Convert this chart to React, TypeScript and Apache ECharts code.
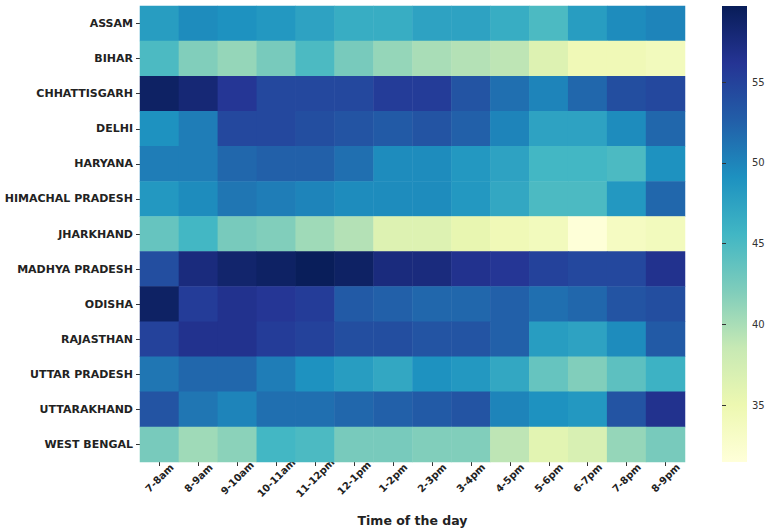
import React, { useEffect, useRef } from "react";
import * as echarts from "echarts";

const times = ["7-8am", "8-9am", "9-10am", "10-11am", "11-12pm", "12-1pm", "1-2pm", "2-3pm", "3-4pm", "4-5pm", "5-6pm", "6-7pm", "7-8pm", "8-9pm"];
const states = ["ASSAM", "BIHAR", "CHHATTISGARH", "DELHI", "HARYANA", "HIMACHAL PRADESH", "JHARKHAND", "MADHYA PRADESH", "ODISHA", "RAJASTHAN", "UTTAR PRADESH", "UTTARAKHAND", "WEST BENGAL"];

const assam = [48, 49.5, 49, 48.5, 47.5, 46.5, 46.5, 47.5, 47.5, 46.5, 45, 48, 49.5, 50];
const bihar = [45, 42, 41, 42.5, 45, 42.5, 41, 40, 39.5, 39, 36.5, 34.5, 34.5, 34];
const chhattisgarh = [59, 58, 56, 54.5, 54.5, 54.5, 55.5, 55.5, 53.5, 51.5, 50, 52, 54, 54.5];
const delhi = [49, 50.5, 54.5, 54.5, 54, 53.5, 53, 53.5, 52.5, 50, 47.5, 47.5, 49.5, 52];
const haryana = [50.5, 50.5, 52, 52.5, 52.5, 51.5, 49.5, 49.5, 48.5, 47.5, 45.5, 45.5, 45, 49];
const himachal = [48.5, 49.5, 51, 50.5, 50, 49.5, 49.5, 49.5, 48.5, 47, 45, 45, 48.5, 52];
const jharkhand = [43.5, 45.5, 42.5, 42, 40.5, 39.5, 36.5, 36.5, 35.5, 34.5, 34, 31.6, 33.5, 34];
const madhya = [54, 57.5, 58.5, 59, 59.6, 59, 57.5, 57.5, 56.5, 56, 55, 54.5, 54.5, 56.5];
const odisha = [59, 55.5, 56.5, 56, 55.5, 53, 52.5, 52, 52, 52.5, 51.5, 52, 53.5, 54];
const rajasthan = [55, 56.5, 56.5, 55.5, 55, 54, 54, 53.5, 53.5, 52.5, 48, 47.5, 49.5, 53];
const uttarPradesh = [51, 52, 52, 50.5, 49, 48, 47, 49, 48.5, 47, 43.5, 42, 44, 46];
const uttarakhand = [53.5, 51, 50, 51.5, 51.5, 52, 52.5, 53, 53.5, 50, 49, 48.5, 53.5, 56.5];
const westBengal = [42.5, 40.5, 41.5, 45.5, 45, 42.5, 42.5, 42, 42, 39, 36, 37, 41, 42.5];

const rows = [assam, bihar, chhattisgarh, delhi, haryana, himachal, jharkhand, madhya, odisha, rajasthan, uttarPradesh, uttarakhand, westBengal];

const colorTicks = [35, 40, 45, 50, 55];
const vMin = 31.5;
const vMax = 59.7;

const ylgnbu = ["#ffffd9", "#edf8b1", "#c7e9b4", "#7fcdbb", "#41b6c4", "#1d91c0", "#225ea8", "#253494", "#081d58"];

export default function App() {
  const ref = useRef<HTMLDivElement>(null);
  useEffect(() => {
    document.body.style.margin = "0";
    if (!ref.current) return;
    const chart = echarts.init(ref.current, undefined, { renderer: "svg" });
    const data: number[][] = [];
    rows.forEach((r, yi) => r.forEach((v, xi) => data.push([xi, yi, v])));
    const font = "DejaVu Sans";
    chart.setOption({
      animation: false,
      backgroundColor: "#ffffff",
      grid: [
        { left: 140, top: 6, width: 545, height: 456, containLabel: false, outerBoundsMode: "none" },
        {
          left: 722, top: 6, width: 25, height: 456, show: true, borderWidth: 0,
          containLabel: false, outerBoundsMode: "none",
          backgroundColor: new echarts.graphic.LinearGradient(0, 1, 0, 0, ylgnbu.map((c, i) => ({ offset: i / (ylgnbu.length - 1), color: c }))),
        },
      ],
      xAxis: [
        {
          type: "category", data: times, gridIndex: 0,
          axisLine: { show: false },
          axisTick: { show: true, length: 4, alignWithLabel: true, lineStyle: { color: "#333" } },
          splitLine: { show: false },
          axisLabel: {
            rotate: 45, align: "center", verticalAlign: "middle",
            fontFamily: font, fontWeight: "bold", fontSize: 10, color: "#222", margin: 16, interval: 0,
          },
          name: "Time of the day", nameLocation: "middle", nameGap: 52,
          nameTextStyle: { fontFamily: font, fontWeight: "bold", fontSize: 12.5, color: "#222" },
        },
        { type: "value", gridIndex: 1, show: false, min: 0, max: 1 },
      ],
      yAxis: [
        {
          type: "category", data: states, inverse: true, gridIndex: 0,
          axisLine: { show: false },
          axisTick: { show: true, length: 4, alignWithLabel: true, lineStyle: { color: "#333" } },
          splitLine: { show: false },
          axisLabel: { fontFamily: font, fontWeight: "bold", fontSize: 11, color: "#222", margin: 7, interval: 0 },
        },
        {
          type: "value", gridIndex: 1, position: "right", min: vMin, max: vMax,
          axisLine: { show: false },
          splitLine: { show: false },
          axisTick: { show: true, length: 4, customValues: colorTicks, lineStyle: { color: "#333" } },
          axisLabel: { customValues: colorTicks, fontFamily: font, fontSize: 10, color: "#333", margin: 5 },
        },
      ],
      visualMap: {
        show: false, min: vMin, max: vMax, seriesIndex: 0, dimension: 2,
        inRange: { color: ylgnbu },
      },
      series: [
        {
          type: "heatmap", xAxisIndex: 0, yAxisIndex: 0, data,
          itemStyle: { borderWidth: 0 },
          emphasis: { disabled: true },
        },
      ],
    });
    return () => chart.dispose();
  }, []);
  return <div ref={ref} style={{ width: 769, height: 532 }} />;
}
